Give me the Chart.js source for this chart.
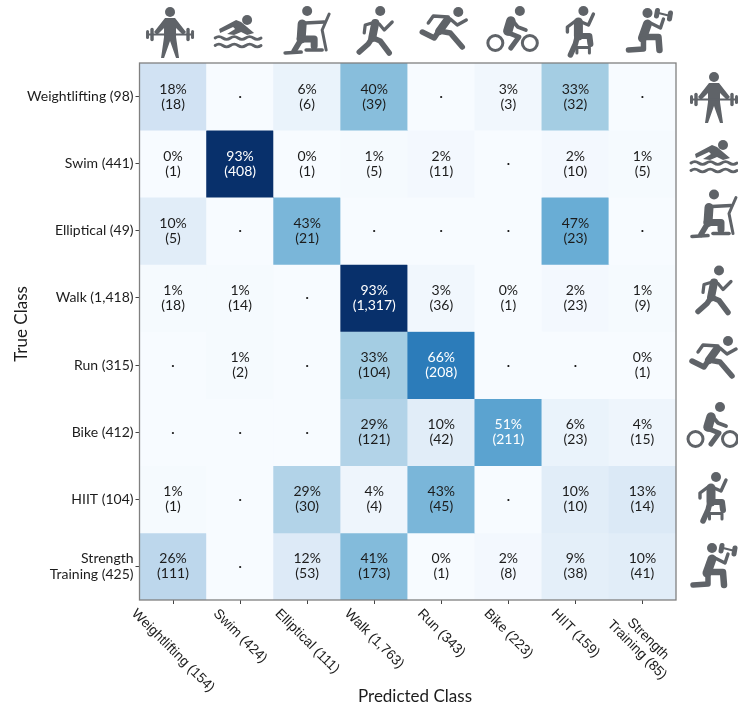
<!DOCTYPE html>
<html><head><meta charset="utf-8">
<style>html,body{margin:0;padding:0;background:#fff}canvas{display:block}</style>
<script src="https://cdn.jsdelivr.net/npm/chart.js@4"></script>
</head><body><canvas id="c" width="738" height="706"></canvas>
<script>
const trueLabels = ['Weightlifting (98)','Swim (441)','Elliptical (49)','Walk (1,418)','Run (315)','Bike (412)','HIIT (104)',['Strength','Training (425)']];
const predLabels = ['Weightlifting (154)','Swim (424)','Elliptical (111)','Walk (1,763)','Run (343)','Bike (223)','HIIT (159)',['Strength','Training (85)']];
const iconNames = ['lift','swim','elliptical','walk','run','bike','hiit','strength'];
const pct = [
 [18,null,6,40,null,3,33,null],
 [0,93,0,1,2,null,2,1],
 [10,null,43,null,null,null,47,null],
 [1,1,null,93,3,0,2,1],
 [null,1,null,33,66,null,null,0],
 [null,null,null,29,10,51,6,4],
 [1,null,29,4,43,null,10,13],
 [26,null,12,41,0,2,9,10]];
const counts = [
 [18,null,6,39,null,3,32,null],
 [1,408,1,5,11,null,10,5],
 [5,null,21,null,null,null,23,null],
 [18,14,null,'1,317',36,1,23,9],
 [null,2,null,104,208,null,null,1],
 [null,null,null,121,42,211,23,15],
 [1,null,30,4,45,null,10,14],
 [111,null,53,173,1,8,38,41]];
const blues = ['#f7fbff','#deebf7','#c6dbef','#9ecae1','#6baed6','#4292c6','#2171b5','#08519c','#08306b'];
function hex(h){return [1,3,5].map(i=>parseInt(h.substr(i,2),16));}
function cellColor(p){
  const t=Math.min(1,(p||0)/93)*8, i=Math.min(7,Math.floor(t)), f=t-i, a=hex(blues[i]), b=hex(blues[i+1]);
  return 'rgb('+a.map((v,k)=>Math.round(v+(b[k]-v)*f)).join(',')+')';
}
const FONT='Lato', GREY='#5f6368', INK='#1c1c1c';
const ICONS={
 lift:[['c',0,-20,5],['p',[-5,-14],[5,-14],[16,0],[13,3],[6,-4],[6,5],[9,26],[6,26],[0,9],[-6,26],[-9,26],[-6,5],[-6,-4],[-13,3],[-16,0]],
  ['l',2.2,[-22,2.5],[22,2.5]],['l',3.4,[-18,-2.5],[-18,7.5]],['l',3.4,[18,-2.5],[18,7.5]],['l',3,[-22.5,-0.5],[-22.5,5.5]],['l',3,[22.5,-0.5],[22.5,5.5]]],
 swim:[['c',9,-12,5],['p',[-19,-3],[-2,-12],[3,-10],[16,1],[9,3],[3,0],[-4,3],[-11,2],[-3,-3],[-5,-5],[-18,1]],
  ['w',2.8,-23,23,6],['w',2.8,-23,23,13.5]],
 elliptical:[['c',0,-21,5],['l',9,[-5,-8],[-6,7]],['l',3.6,[-2,-9],[17,-10]],['l',3,[22,-18],[15,-2],[19,18]],['l',7,[-7,7],[7,7],[7,14]],['l',5.5,[-7,9],[-13,19]],['l',3.6,[-22,21],[-6,20]],['l',3.6,[-1,18],[15,18]]],
 walk:[['c',4,-21,5],['l',8,[-1,-9],[-4,6]],['l',3.2,[-1,-10],[-11,-7],[-12,1]],['l',3.2,[3,-8],[8,-2],[16,-10]],['l',5.5,[-4,6],[-8,12],[-17,20]],['l',5.5,[-3,6],[4,9],[13,21]]],
 run:[['c',14,-17,5],['l',8,[3,-9],[-5,2]],['l',3.4,[4,-12],[-11,-13],[-16,-6]],['l',3.4,[6,-10],[13,-4],[22,-9]],['l',5.5,[-5,2],[6,4],[18,18]],['l',5.5,[-6,3],[-10,9],[-22,3]]],
 bike:[['c',7,-19,5],['r',3,-17.5,13,7.5],['r',3,17,13,7.5],['l',9.5,[-2,-9],[-5,1]],['l',3.8,[0,-9],[5,-3],[13,0]],['l',5,[-4,3],[6,7],[-2,18]]],
 hiit:[['c',3,-19,5],['l',9,[-2,-8],[-2,6]],['l',3.4,[-5,-9],[-13,-3],[-13,2]],['l',3.4,[1,-8],[8,-5],[13,-16]],['l',6,[-2,6],[9,6],[10,14]],['l',5.5,[-3,6],[-5,14],[-10,25]],['l',3,[-3.5,23],[-3.5,17.5],[9,17.5],[9,23]]],
 strength:[['c',-2,-17,5],['l',9,[-2,-6],[-7,8]],['l',3.4,[1,-7],[11,-2],[14,-11]],['l',2.2,[9,-17],[21,-14]],['l',5,[8,-19.5],[7,-14]],['l',5,[21,-17],[20,-11]],['l',6.5,[-6,7],[9,7],[10,20]],['l',5.5,[-6,9],[-6,19],[-21,20]]]
};
const topOffsetX=[-3,-2,0,2,3,4.5,5,7];
const topY=[32,32,32,32,29,30,30,30];
const rightX=[714,714,714,715,714,713,713,714];
const rightY=[97,157,215.5,291.5,358,426,496,565];
function drawIcon(ctx,name,cx,cy){
  ctx.save();ctx.translate(cx,cy);ctx.fillStyle=GREY;ctx.strokeStyle=GREY;ctx.lineCap='round';ctx.lineJoin='round';
  for(const op of ICONS[name]){
    const k=op[0];
    if(k==='c'){ctx.beginPath();ctx.arc(op[1],op[2],op[3],0,7);ctx.fill();}
    if(k==='r'){ctx.beginPath();ctx.lineWidth=op[1];ctx.arc(op[2],op[3],op[4],0,7);ctx.stroke();}
    if(k==='l'){ctx.beginPath();ctx.lineWidth=op[1];op.slice(2).forEach((p,i)=>i?ctx.lineTo(p[0],p[1]):ctx.moveTo(p[0],p[1]));ctx.stroke();}
    if(k==='p'){ctx.beginPath();op.slice(1).forEach((p,i)=>i?ctx.lineTo(p[0],p[1]):ctx.moveTo(p[0],p[1]));ctx.closePath();ctx.fill();}
    if(k==='w'){ctx.beginPath();ctx.lineWidth=op[1];const step=(op[3]-op[2])/6;ctx.moveTo(op[2],op[4]);
      for(let i=0;i<6;i++){ctx.quadraticCurveTo(op[2]+step*(i+.5),op[4]+(i%2?2.8:-2.8),op[2]+step*(i+1),op[4]);}ctx.stroke();}
  }
  ctx.restore();
}
const overlay={id:'overlay',
 afterDatasetsDraw(chart){
  const {ctx,scales:{x,y},chartArea:a}=chart;
  ctx.save();ctx.textAlign='center';ctx.textBaseline='middle';ctx.font='14px '+FONT;
  pct.forEach((row,r)=>row.forEach((p,c)=>{
    const cx=x.getPixelForValue(c), cy=y.getPixelForValue(r+.5);
    ctx.fillStyle=(p!==null&&p>=50)?'#fff':INK;
    if(p===null){ctx.font='bold 14px '+FONT;ctx.fillText('.',cx,cy-3);ctx.font='14px '+FONT;}
    else{ctx.fillText(p+'%',cx,cy-7.5);ctx.fillText('('+counts[r][c]+')',cx,cy+7.5);}
  }));
  ctx.strokeStyle='#808080';ctx.lineWidth=1.3;ctx.strokeRect(a.left,a.top,a.right-a.left,a.bottom-a.top);
  ctx.restore();
 },
 afterDraw(chart){
  const {ctx,scales:{x,y}}=chart;
  ctx.save();ctx.fillStyle=INK;ctx.font='13.8px "Liberation Sans"';ctx.textAlign='center';ctx.textBaseline='middle';
  const lh=15.5;
  predLabels.forEach((lab,i)=>{
    const lines=[].concat(lab), w=Math.max(...lines.map(s=>ctx.measureText(s).width)), h=lines.length*lh;
    const cx=x.getPixelForValue(i), cy=606+(w+h)*Math.SQRT1_2/2;
    ctx.save();ctx.translate(cx,cy);ctx.rotate(Math.PI/4);
    lines.forEach((s,k)=>ctx.fillText(s,0,(k-(lines.length-1)/2)*lh));
    ctx.restore();
  });
  ctx.font='17px '+FONT;
  ctx.fillText('Predicted Class',415,697);
  ctx.save();ctx.translate(22,324);ctx.rotate(-Math.PI/2);ctx.fillText('True Class',0,0);ctx.restore();
  ctx.restore();
  iconNames.forEach((n,i)=>{
    drawIcon(ctx,n,x.getPixelForValue(i)+topOffsetX[i],topY[i]);
    drawIcon(ctx,n,rightX[i],rightY[i]);
  });
 }
};
new Chart(document.getElementById('c'),{
 type:'bar',
 data:{labels:predLabels,datasets:pct.map((row,r)=>({
   label:Array.isArray(trueLabels[r])?trueLabels[r].join(' '):trueLabels[r],
   data:row.map(()=>[r,r+1]),
   backgroundColor:row.map(cellColor),
   borderWidth:0,barPercentage:1,categoryPercentage:1,grouped:false
 }))},
 options:{
  responsive:false,animation:false,devicePixelRatio:1,
  layout:{padding:{top:63,right:62,left:0,bottom:0}},
  plugins:{legend:{display:false},tooltip:{enabled:false},title:{display:false}},
  scales:{
   x:{type:'category',offset:true,
    grid:{display:true,offset:false,drawOnChartArea:false,drawTicks:true,tickLength:4,tickColor:'#444',tickWidth:1},
    border:{display:false},
    ticks:{display:false},
    afterFit(s){s.height=106;}
   },
   y:{type:'linear',min:0,max:8,reverse:true,
    grid:{display:true,drawOnChartArea:false,drawTicks:true,tickLength:4,tickColor:'#444',tickWidth:1},
    border:{display:false},
    afterBuildTicks(s){s.ticks=trueLabels.map((_,i)=>({value:i+.5}));},
    ticks:{color:INK,autoSkip:false,padding:2,font:{family:FONT,size:14,lineHeight:1.15},
      callback(v){return trueLabels[Math.round(v-.5)];}},
    afterFit(s){s.width=139.5;}
   }
  }
 },
 plugins:[overlay]
});
</script></body></html>
